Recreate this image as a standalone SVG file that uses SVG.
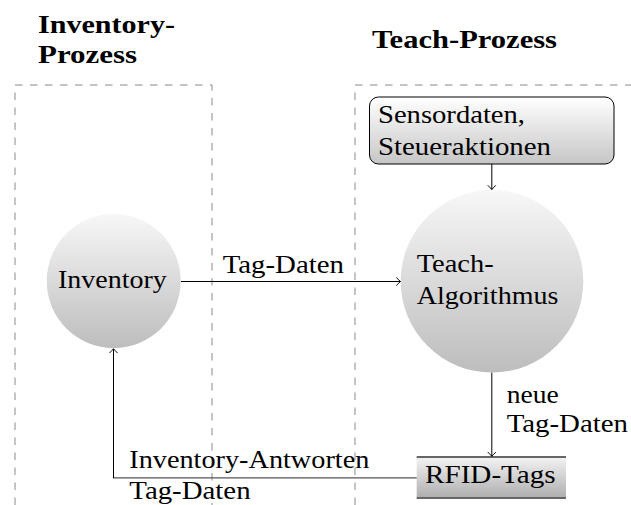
<svg xmlns="http://www.w3.org/2000/svg" width="631" height="505" viewBox="0 0 631 505">
<defs>
<linearGradient id="gCircle" x1="0" y1="0" x2="0" y2="1">
<stop offset="0" stop-color="#f7f7f7"/>
<stop offset="1" stop-color="#bdbdbd"/>
</linearGradient>
<linearGradient id="gBox" x1="0" y1="0" x2="0" y2="1">
<stop offset="0" stop-color="#ffffff"/>
<stop offset="1" stop-color="#c6c6c6"/>
</linearGradient>
<linearGradient id="gStore" x1="0" y1="0" x2="0" y2="1">
<stop offset="0" stop-color="#f4f4f4"/>
<stop offset="1" stop-color="#adadad"/>
</linearGradient>
<marker id="arr" markerUnits="userSpaceOnUse" markerWidth="12" markerHeight="12" viewBox="-6 -6 12 12" refX="0" refY="0" orient="auto">
<path d="M-4.2,-4 Q-1.2,-1 0,0 Q-1.2,1 -4.2,4" fill="none" stroke="#000" stroke-width="1"/>
</marker>
</defs>
<style>
.t{font-family:"Liberation Serif","Times New Roman",serif;font-size:26px;fill:#000}
.h{font-family:"Liberation Serif","Times New Roman",serif;font-size:26px;font-weight:bold;fill:#000}
.lane{fill:none;stroke:#8a8a8a;stroke-width:1;stroke-dasharray:7.5 7.5}
.c{fill:none;stroke:#000;stroke-width:1}
</style>

<g id="lanes">
<path class="lane" d="M15,505 V85 H212 V505"/>
<path class="lane" d="M355,505 V85 H631"/>
<text class="h" x="38" y="33" textLength="137" lengthAdjust="spacingAndGlyphs">Inventory-</text>
<text class="h" x="38" y="63" textLength="99" lengthAdjust="spacingAndGlyphs">Prozess</text>
<text class="h" x="372" y="48" textLength="185" lengthAdjust="spacingAndGlyphs">Teach-Prozess</text>
</g>

<g id="sensordaten">
<rect x="369.5" y="97" width="244.5" height="67" rx="9" ry="9" fill="url(#gBox)" stroke="#000" stroke-width="1"/>
<text class="t" x="378" y="123" textLength="147" lengthAdjust="spacingAndGlyphs">Sensordaten,</text>
<text class="t" x="378" y="155" textLength="173" lengthAdjust="spacingAndGlyphs">Steueraktionen</text>
</g>

<g id="inventory">
<ellipse cx="113.7" cy="281" rx="67" ry="67" fill="url(#gCircle)"/>
<text class="t" x="58" y="288" textLength="108.7" lengthAdjust="spacingAndGlyphs">Inventory</text>
</g>

<g id="teach">
<ellipse cx="492" cy="281.3" rx="91.3" ry="91.3" fill="url(#gCircle)"/>
<text class="t" x="416.7" y="271.7" textLength="77" lengthAdjust="spacingAndGlyphs">Teach-</text>
<text class="t" x="416.7" y="304" textLength="141.7" lengthAdjust="spacingAndGlyphs">Algorithmus</text>
</g>

<g id="rfid">
<rect x="416.7" y="456.7" width="149.3" height="41.6" fill="url(#gStore)"/>
<line x1="416.7" y1="457" x2="566" y2="457" stroke="#666" stroke-width="2"/>
<line x1="416.7" y1="498" x2="566" y2="498" stroke="#666" stroke-width="2"/>
<text class="t" x="425" y="483.3" textLength="130.7" lengthAdjust="spacingAndGlyphs">RFID-Tags</text>
</g>

<g id="connectors">
<line class="c" x1="491.8" y1="164" x2="491.8" y2="189.5" marker-end="url(#arr)"/>
<line class="c" x1="181" y1="281.5" x2="400.5" y2="281.5" marker-end="url(#arr)"/>
<line class="c" x1="491.8" y1="372.6" x2="491.8" y2="456.3" marker-end="url(#arr)"/>
<path d="M416.7,477.8 H113.5" fill="none" stroke="#555" stroke-width="1.3"/>
<path class="c" d="M113.5,478.3 V348.8" marker-end="url(#arr)"/>
<text class="t" x="222.7" y="272.7" textLength="121.3" lengthAdjust="spacingAndGlyphs">Tag-Daten</text>
<text class="t" x="506.7" y="403.3" textLength="52" lengthAdjust="spacingAndGlyphs">neue</text>
<text class="t" x="506.7" y="431.7" textLength="121.3" lengthAdjust="spacingAndGlyphs">Tag-Daten</text>
<text class="t" x="129.3" y="468.3" textLength="240" lengthAdjust="spacingAndGlyphs">Inventory-Antworten</text>
<text class="t" x="129.3" y="499.3" textLength="121.3" lengthAdjust="spacingAndGlyphs">Tag-Daten</text>
</g>
</svg>
